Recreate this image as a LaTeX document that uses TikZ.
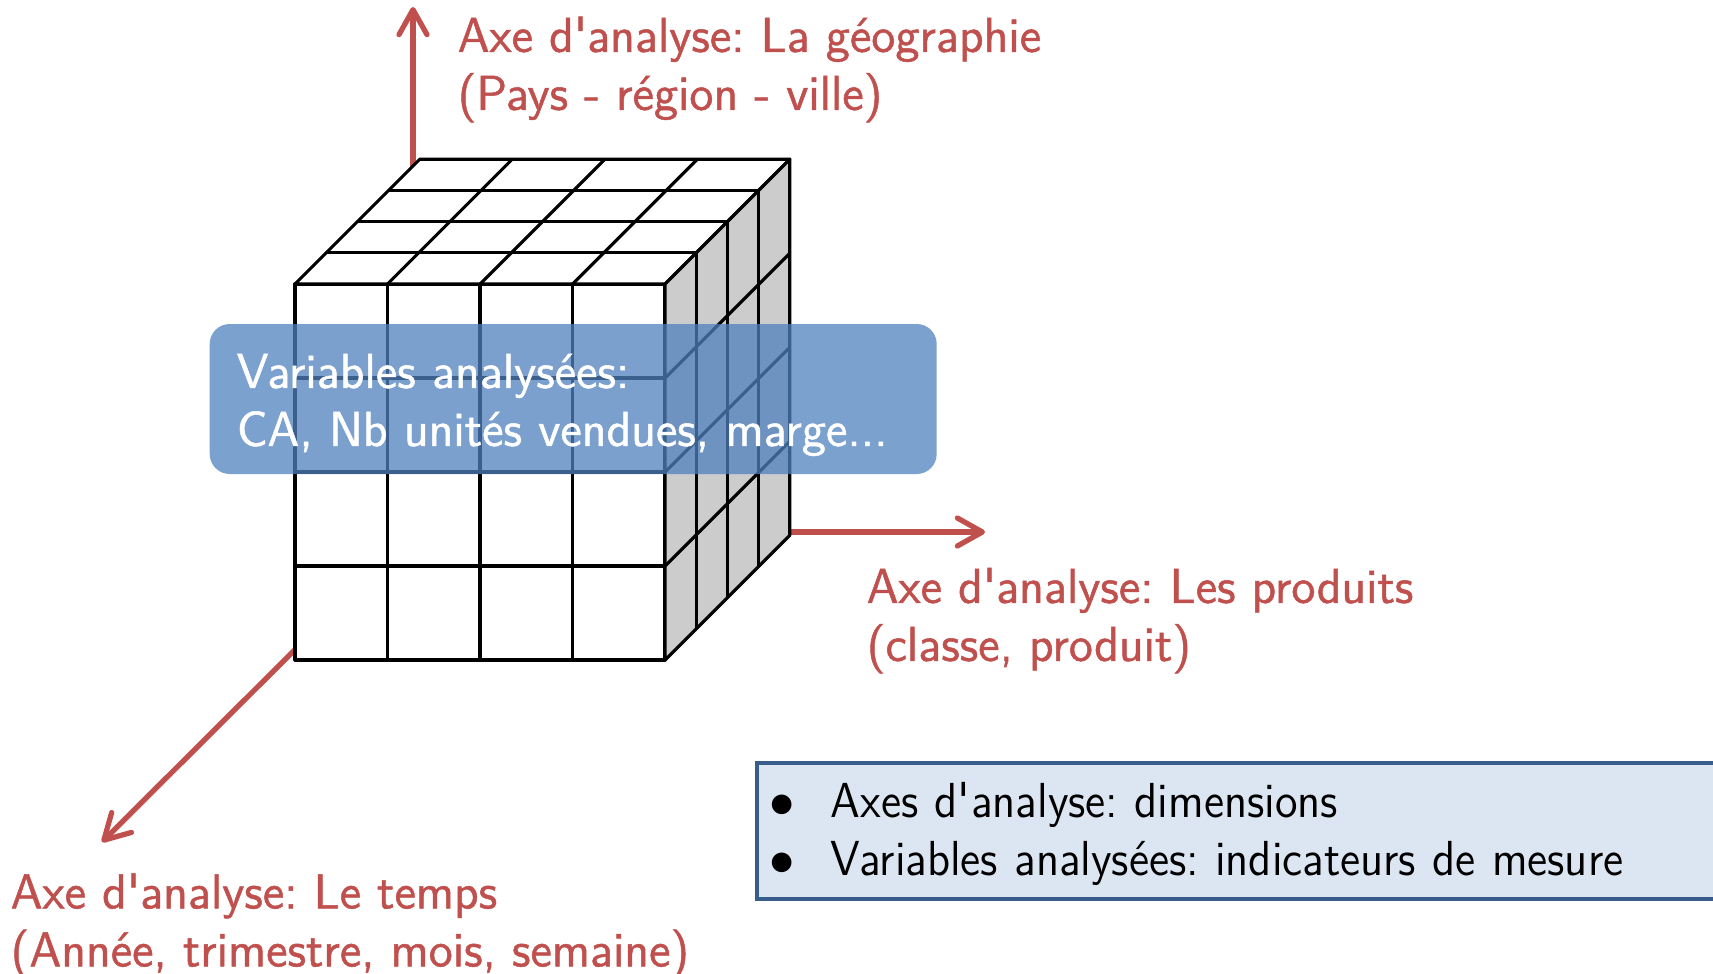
\documentclass[tikz,border=0pt]{standalone}
\usepackage{fontspec}
\usetikzlibrary{arrows.meta}
\newfontfamily\axefont{lmsans12-regular.otf}[FakeBold=1.0]
\newfontfamily\legendfont{lmsans12-regular.otf}[FakeStretch=0.935]
\definecolor{axered}{HTML}{C0504D}
\definecolor{boxblue}{HTML}{4F81BD}
\definecolor{legendfill}{HTML}{DCE6F2}
\definecolor{legenddraw}{HTML}{385D8A}
\definecolor{sidegray}{HTML}{CCCCCC}
\frenchspacing
\begin{document}
\begin{tikzpicture}[x=1cm,y=-1cm,
    axe/.style={draw=axered, line width=1.5pt, line cap=round, -{Straight Barb[round,length=2.5mm,width=2.8mm]}},
    axelabel/.style={text=axered, font=\axefont\fontsize{14}{16.5}\selectfont, align=left, anchor=west, inner sep=0pt},
    grille/.style={line width=0.9pt, line join=round},
    varbox/.style={fill=boxblue, fill opacity=0.75, text opacity=1, text=white, rounded corners=0.2cm,
        font=\axefont\fontsize{14}{16.5}\selectfont, align=left, text width=6.73cm, inner xsep=0.27cm,
        minimum height=1.5cm, anchor=west},
    legendbox/.style={fill=legendfill, draw=legenddraw, line width=1pt, font=\legendfont\fontsize{14}{16.5}\selectfont,
        align=left, text width=9.6cm, inner xsep=0.13cm, minimum height=1.36cm, anchor=north west}]
    \useasboundingbox (0,0) rectangle (17.13,9.73);
    % axes
    \coordinate (origine) at (4.13,5.32);
    \coordinate (haut) at (4.13,0.07);
    \coordinate (droite) at (9.85,5.32);
    \coordinate (bas) at (1.02,8.42);
    \draw[axe] (origine) -- (haut);
    \draw[axe] (origine) -- (droite);
    \draw[axe] (origine) -- (bas);
    % cube
    \filldraw[grille, fill=white] (2.95,6.60) rectangle (6.65,2.84);
    \filldraw[grille, fill=white] (2.95,2.84) -- (6.65,2.84) -- (7.898,1.592) -- (4.198,1.592) -- cycle;
    \filldraw[grille, fill=sidegray] (6.65,6.60) -- (6.65,2.84) -- (7.898,1.592) -- (7.898,5.352) -- cycle;
    \foreach \i in {1,2,3} {
        \draw[grille] (2.95+\i*0.925,2.84) -- ++(0,3.76);
        \draw[grille] (2.95,2.84+\i*0.94) -- ++(3.7,0);
        \draw[grille] (2.95+\i*0.925,2.84) -- ++(1.248,-1.248);
        \draw[grille] (2.95+\i*0.312,2.84-\i*0.312) -- ++(3.7,0);
        \draw[grille] (6.65+\i*0.312,2.84-\i*0.312) -- ++(0,3.76);
        \draw[grille] (6.65,2.84+\i*0.94) -- ++(1.248,-1.248);
    }
    % variables
    \node[varbox, minimum width=7.27cm] (variables) at (2.09,3.99)
        {\rule{0pt}{0.46cm}Variables analysées:\\CA, Nb unités vendues, marge...};
    % labels
    \node[axelabel] (geo) at (4.57,0.695) {Axe d\textquotesingle analyse: La géographie\\(Pays - région - ville)};
    \node[axelabel] (produits) at (8.66,6.205) {Axe d\textquotesingle analyse: Les produits\\(classe, produit)};
    \node[axelabel] (temps) at (0.10,9.26) {Axe d\textquotesingle analyse: Le temps\\(Année, trimestre, mois, semaine)};
    % legende
    \node[legendbox, minimum width=9.84cm] (legende) at (7.55,7.61)
        {\rule{0pt}{0.42cm}\makebox[0.61cm][l]{$\bullet$}Axes d\textquotesingle analyse: dimensions\\
         \makebox[0.61cm][l]{$\bullet$}Variables analysées: indicateurs de mesure};
\end{tikzpicture}
\end{document}
